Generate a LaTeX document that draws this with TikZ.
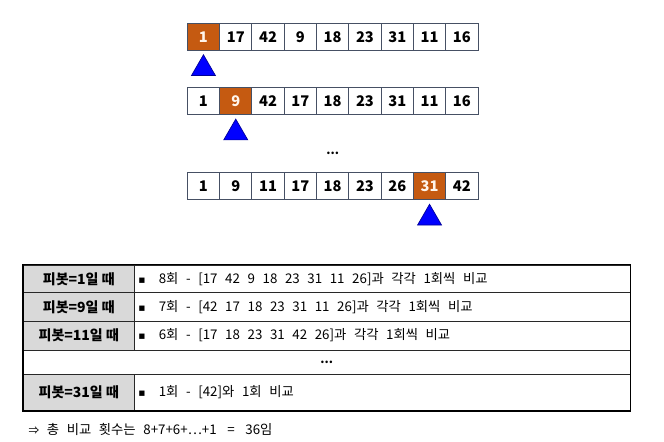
\documentclass[tikz,border=0pt]{standalone}
\usepackage{fontspec}
\setmainfont{Noto Sans CJK KR}
\newfontfamily\symfont{DejaVu Sans}
\usepackage{tikz}
\usetikzlibrary{shapes.geometric, positioning, fit}
\definecolor{pivorange}{RGB}{197,90,17}
\definecolor{cellline}{RGB}{70,80,100}
\definecolor{pivblue}{RGB}{0,0,255}
\definecolor{pivedge}{RGB}{0,0,150}
\definecolor{hdrgray}{RGB}{217,217,217}
\definecolor{tline}{RGB}{40,40,40}
\newcommand{\bodyfont}{\fontsize{10}{12}\selectfont\spaceskip=5.7pt\relax}
\tikzset{
  cell/.style={rectangle, draw=cellline, fill=white, line width=0.7pt,
    minimum width=24.2pt, minimum height=20pt, inner sep=0pt,
    font=\bfseries\fontsize{11}{13}\selectfont},
  pivcell/.style={cell, fill=pivorange, text=white!92!orange},
  pivmark/.style={regular polygon, regular polygon sides=3, minimum size=20.8pt,
    inner sep=0pt, outer sep=0pt, fill=pivblue, draw=pivedge, line width=0.5pt},
  hdr/.style={rectangle, draw=tline, fill=hdrgray, line width=0.6pt,
    minimum width=83.25pt, inner sep=0pt, font=\bfseries\fontsize{10.5}{12}\selectfont},
  body/.style={rectangle, draw=tline, fill=white, line width=0.6pt,
    text width=365.8pt, inner xsep=3pt, inner ysep=0pt, align=left,
    font=\bodyfont},
  outerframe/.style={rectangle, draw=black, line width=1.1pt, inner sep=0pt}
}
% bullet, and wider word gaps after the node's own ragged setup
\newcommand{\bul}{\spaceskip=5.7pt\relax
  {\symfont\fontsize{8}{10}\selectfont ▪}\hspace{10pt}}

\begin{document}
\begin{tikzpicture}[x=0.75pt, y=-0.75pt]
  \useasboundingbox (0,0) rectangle (664,442);

  % pass 1: pivot = 1
  \foreach \s/\v [count=\i] in {pivcell/1, cell/17, cell/42, cell/9, cell/18,
      cell/23, cell/31, cell/11, cell/16}
    \node[\s] (ra\i) at ({187.3+32.3*(\i-0.5)},36.7) {\v};
  \node[pivmark, below=3.2pt of ra1] (pa) {};

  % pass 2: pivot = 9
  \foreach \s/\v [count=\i] in {cell/1, pivcell/9, cell/42, cell/17, cell/18,
      cell/23, cell/31, cell/11, cell/16}
    \node[\s] (rb\i) at ({187.3+32.3*(\i-0.5)},101) {\v};
  \node[pivmark, below=3.2pt of rb2] (pb) {};

  \node[font=\bfseries\fontsize{9}{10}\selectfont] (gap) at (332.7,153) {...};

  % last pass: pivot = 31
  \foreach \s/\v [count=\i] in {cell/1, cell/9, cell/11, cell/17, cell/18,
      cell/23, cell/26, pivcell/31, cell/42}
    \node[\s] (rc\i) at ({187.3+32.3*(\i-0.5)},186.2) {\v};
  \node[pivmark, below=3.2pt of rc8] (pc) {};

  % comparison table
  \node[hdr, minimum height=20.8pt] (h1) at (78.8,278.85) {피봇=1일 때};
  \node[body, minimum height=20.8pt] (b1) at (382.15,278.85)
    {\bul 8회 - [17 42 9 18 23 31 11 26]과 각각 1회씩 비교};
  \node[hdr, minimum height=21.2pt] (h2) at (78.8,306.85) {피봇=9일 때};
  \node[body, minimum height=21.2pt] (b2) at (382.15,306.85)
    {\bul 7회 - [42 17 18 23 31 11 26]과 각각 1회씩 비교};
  \node[hdr, minimum height=21.75pt] (h3) at (78.8,335.5) {피봇=11일 때};
  \node[body, minimum height=21.75pt] (b3) at (382.15,335.5)
    {\bul 6회 - [17 18 23 31 42 26]과 각각 1회씩 비교};
  \node[rectangle, draw=tline, fill=white, line width=0.6pt, minimum width=455pt,
    minimum height=18.2pt, inner sep=0pt, font=\bfseries\fontsize{9}{10}\selectfont]
    (skip) at (326.65,362.15) {...};
  \node[hdr, minimum height=27.3pt] (h4) at (78.8,392.5) {피봇=31일 때};
  \node[body, minimum height=27.3pt] (b4) at (382.15,392.5)
    {\bul 1회 - [42]와 1회 비교};
  \node[outerframe, fit=(h1)(b4)] (frame) {};

  \node[anchor=west, font=\bodyfont] (total) at (24,429)
    {{\fontsize{8}{10}\selectfont ⇒} 총 비교 횟수는 8+7+6+…+1\hspace{8pt}=\hspace{8pt}36임};
\end{tikzpicture}
\end{document}
